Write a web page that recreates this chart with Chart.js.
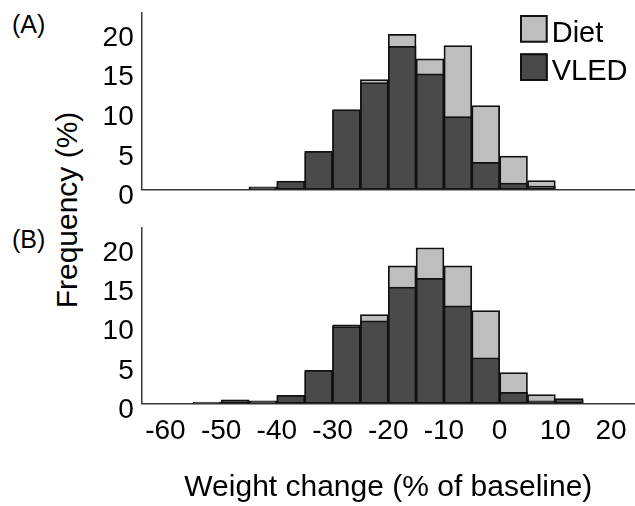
<!DOCTYPE html>
<html><head><meta charset="utf-8">
<script src="https://cdn.jsdelivr.net/npm/chart.js@4.4.1/dist/chart.umd.min.js"></script>
<style>
html,body{margin:0;padding:0;background:#fff;width:635px;height:506px;overflow:hidden;font-family:"Liberation Sans",Arial,sans-serif;}
#wrapA{position:absolute;left:0;top:0;width:635px;height:214px;}
#wrapB{position:absolute;left:0;top:215px;width:635px;height:291px;}
.lbl{position:absolute;color:#000;font-size:25px;line-height:25px;white-space:nowrap;}
#ytitle{position:absolute;left:67px;top:210px;transform:translate(-50%,-50%) rotate(-90deg);font-size:30px;line-height:30px;white-space:nowrap;color:#000;}
</style></head>
<body>
<div class="lbl" style="left:12px;top:12px">(A)</div>
<div class="lbl" style="left:12px;top:227px">(B)</div>
<div id="ytitle">Frequency (%)</div>
<div id="wrapA"><canvas id="chartA" width="635" height="214"></canvas></div>
<div id="wrapB"><canvas id="chartB" width="635" height="291"></canvas></div>
<script>
// ---- data ----
const seriesNames = ['Diet', 'VLED'];
const binCentersA = [-42.5, -37.5, -32.5, -27.5, -22.5, -17.5, -12.5, -7.5, -2.5, 2.5, 7.5];
const dietA = [0.2, 0.9, 4.6, 9.9, 13.9, 19.6, 16.5, 18.2, 10.6, 4.2, 1.1];
const vledA = [0.3, 1.05, 4.8, 10.1, 13.5, 18.1, 14.6, 9.2, 3.4, 0.8, 0.4];

const binCentersB = [-52.5, -47.5, -42.5, -37.5, -32.5, -27.5, -22.5, -17.5, -12.5, -7.5, -2.5, 2.5, 7.5, 12.5];
const dietB = [0.1, 0.4, 0.2, 0.9, 4.0, 10.0, 11.3, 17.5, 19.8, 17.5, 11.8, 3.9, 1.1, 0.4];
const vledB = [0.15, 0.45, 0.3, 1.0, 4.2, 9.75, 10.5, 14.8, 15.9, 12.4, 5.8, 1.4, 0.3, 0.6];

const xTicks = [-60, -50, -40, -30, -20, -10, 0, 10, 20];
const yTicks = [0, 5, 10, 15, 20];
const xMin = -64.26, xMax = 24.3;
const yMin = 0, yMax = 22.35;

const xTitle = 'Weight change (% of baseline)';
const dietColor = '#bebebe';
const vledColor = '#4a4a4a';

Chart.defaults.font.family = '"Liberation Sans", Arial, sans-serif';
Chart.defaults.color = '#000';

const boxLegend = {
  id: 'boxLegend',
  afterDraw(chart, args, opts) {
    if (!opts.show) return;
    const ctx = chart.ctx, area = chart.chartArea;
    const s = 27.7;
    ctx.save();
    ctx.font = '29px "Liberation Sans", Arial, sans-serif';
    chart.data.datasets.forEach((ds, i) => {
      const bx = area.right - 115, by = area.top + 2.3 + i * 38.3;
      ctx.fillStyle = ds.backgroundColor;
      ctx.fillRect(bx, by, s, s);
      ctx.lineWidth = 2;
      ctx.strokeStyle = '#111';
      ctx.strokeRect(bx + 1, by + 1, s - 2, s - 2);
      ctx.fillStyle = '#000';
      ctx.textBaseline = 'alphabetic';
      ctx.textAlign = 'left';
      ctx.fillText(ds.label, bx + 31.7, by + s - 1);
    });
    ctx.restore();
  }
};

function makeChart(id, centers, diet, vled, bottomPanel) {
  const canvasH = bottomPanel ? 291 : 214;
  const areaTop = 12.7;
  const areaBottom = bottomPanel ? 188.3 : 189.3;
  return new Chart(document.getElementById(id), {
    type: 'bar',
    data: {
      datasets: [
        { label: seriesNames[0], data: centers.map((c, i) => ({ x: c, y: diet[i] })), backgroundColor: dietColor, order: 1 },
        { label: seriesNames[1], data: centers.map((c, i) => ({ x: c, y: vled[i] })), backgroundColor: vledColor, order: 0 }
      ]
    },
    plugins: [boxLegend],
    options: {
      responsive: false,
      animation: false,
      events: [],
      layout: { padding: { left: 0, right: 0, top: areaTop, bottom: bottomPanel ? 0 : canvasH - areaBottom } },
      datasets: { bar: { grouped: false, barPercentage: 1, categoryPercentage: 1, borderColor: '#111', borderWidth: 1.75, borderSkipped: false } },
      plugins: { legend: { display: false }, tooltip: { enabled: false }, boxLegend: { show: !bottomPanel } },
      scales: {
        x: {
          type: 'linear', min: xMin, max: xMax, offset: false,
          afterBuildTicks: s => { s.ticks = xTicks.map(v => ({ value: v })); },
          afterFit: s => { s.height = bottomPanel ? canvasH - areaBottom : 0; s.paddingLeft = 0; s.paddingRight = 0; },
          grid: { display: false, drawTicks: false, offset: false },
          border: { display: true, color: '#3a3a3a', width: 1.5 },
          ticks: { display: bottomPanel, font: { size: 28 }, padding: 11, maxRotation: 0, autoSkip: false, color: '#000' },
          title: { display: bottomPanel, text: xTitle, font: { size: 30 }, padding: { top: 0, bottom: 0 }, color: '#000' }
        },
        y: {
          min: yMin, max: yMax,
          afterBuildTicks: s => { s.ticks = yTicks.map(v => ({ value: v })); },
          afterFit: s => { s.width = 141.7; s.paddingTop = 0; s.paddingBottom = 0; },
          grid: { display: false, drawTicks: false },
          border: { display: true, color: '#3a3a3a', width: 1.5 },
          ticks: { font: { size: 28 }, padding: 8, labelOffset: 7, color: '#000' }
        }
      }
    }
  });
}

makeChart('chartA', binCentersA, dietA, vledA, false);
makeChart('chartB', binCentersB, dietB, vledB, true);
</script>
</body></html>
